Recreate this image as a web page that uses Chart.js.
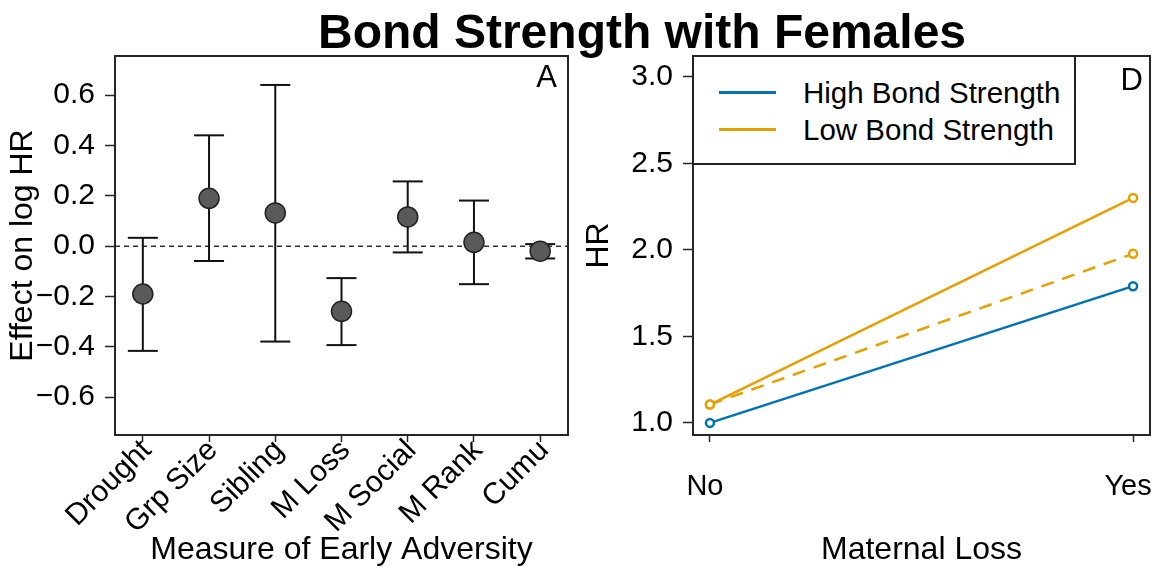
<!DOCTYPE html>
<html>
<head>
<meta charset="utf-8">
<script src="https://cdn.jsdelivr.net/npm/chart.js@4.4.1/dist/chart.umd.min.js"></script>
<style>
  html, body { margin: 0; padding: 0; background: #fff; }
  body { width: 1154px; height: 567px; position: relative; overflow: hidden; font-family: "Liberation Sans", Arial, sans-serif; }
  canvas { position: absolute; top: 0; }
  #leftChart { left: 0; }
  #rightChart { left: 580px; }
  #title { position: absolute; left: 0; top: 6px; width: 1284px; text-align: center; font-weight: bold; font-size: 48px; line-height: 52px; color: #000; }
  #legend { position: absolute; left: 692px; top: 55px; width: 384px; height: 110px; box-sizing: border-box; border: 2px solid #222; background: #fff; }
  .row { position: absolute; left: 0; height: 34px; width: 100%; }
  .row .swatch { position: absolute; left: 25px; top: 15px; width: 57px; height: 3px; }
  .row .lbl { position: absolute; left: 109px; top: 0; font-size: 29.5px; line-height: 34px; color: #000; white-space: nowrap; }
</style>
</head>
<body>
<canvas id="leftChart" width="580" height="567"></canvas>
<canvas id="rightChart" width="574" height="567"></canvas>
<div id="title">Bond Strength with Females</div>
<div id="legend">
  <div class="row" style="top:19px"><div class="swatch" style="background:#0072B2"></div><div class="lbl">High Bond Strength</div></div>
  <div class="row" style="top:56px"><div class="swatch" style="background:#E69F00"></div><div class="lbl">Low Bond Strength</div></div>
</div>
<script>
// Panel A: effect of each early adversity measure (estimate + interval)
const categories = ['Drought', 'Grp Size', 'Sibling', 'M Loss', 'M Social', 'M Rank', 'Cumu'];
const estimates = [-0.19, 0.19, 0.132, -0.259, 0.116, 0.015, -0.02];
const lowerCI = [-0.416, -0.059, -0.379, -0.393, -0.025, -0.151, -0.049];
const upperCI = [0.033, 0.44, 0.64, -0.127, 0.257, 0.181, 0.008];
const effectTicks = [-0.6, -0.4, -0.2, 0, 0.2, 0.4, 0.6];

// Panel D: hazard ratio by maternal loss
const lossLabels = ['No', 'Yes'];
const highBond = [1.0, 1.79];
const lowBond = [1.106, 2.30];
const lowBondDashed = [1.106, 1.977];
const hrTicks = [1.0, 1.5, 2.0, 2.5, 3.0];

const FONT = '"Liberation Sans", Arial, sans-serif';
const BLUE = '#0072B2';
const ORANGE = '#E69F00';
const TICK_SIZE = 30;

// left chart x range (category positions are 1..7)
const xMinA = 0.58, xMaxA = 7.42;

// frame around the plot area plus the panel letter
const framePlugin = {
  id: 'frame',
  afterDraw(chart, args, opts) {
    const { ctx, chartArea: { left, top, right, bottom } } = chart;
    ctx.save();
    ctx.strokeStyle = '#262626';
    ctx.lineWidth = 2;
    ctx.strokeRect(left, top, right - left, bottom - top);
    if (opts.tag) {
      ctx.font = '31px ' + FONT;
      ctx.fillStyle = '#000';
      ctx.textAlign = 'right';
      ctx.textBaseline = 'alphabetic';
      ctx.fillText(opts.tag, right - opts.dx, top + opts.dy);
    }
    ctx.restore();
  }
};

const fmt = v => v.toFixed(1).replace('-', '\u2212');

// keep the plot area where the layout padding puts it
const fixWidth = w => s => { s.width = w; s.paddingTop = 0; s.paddingBottom = 0; s.paddingLeft = 0; s.paddingRight = 0; };
const fixHeight = h => s => { s.height = h; s.paddingTop = 0; s.paddingBottom = 0; s.paddingLeft = 0; s.paddingRight = 0; };

// error bar stems: one segment per category, broken by null points
const stems = [];
const caps = [];
categories.forEach((c, i) => {
  stems.push({ x: i + 1, y: lowerCI[i] }, { x: i + 1, y: upperCI[i] }, { x: i + 1, y: null });
  caps.push({ x: i + 1, y: lowerCI[i] }, { x: i + 1, y: upperCI[i] });
});

new Chart(document.getElementById('leftChart'), {
  type: 'line',
  data: {
    datasets: [
      {
        label: 'Estimate',
        data: estimates.map((v, i) => ({ x: i + 1, y: v })),
        showLine: false,
        pointRadius: 10,
        pointBackgroundColor: '#5a5a5a',
        pointBorderColor: '#222',
        pointBorderWidth: 1.5,
        order: 0
      },
      {
        label: 'caps',
        data: caps,
        showLine: false,
        pointStyle: 'line',
        pointRadius: 15,
        pointBorderColor: '#111',
        pointBorderWidth: 2,
        order: 1
      },
      {
        label: 'stems',
        data: stems,
        borderColor: '#111',
        borderWidth: 2,
        pointRadius: 0,
        spanGaps: false,
        order: 2
      },
      {
        label: 'zero',
        data: [{ x: xMinA, y: 0 }, { x: xMaxA, y: 0 }],
        borderColor: '#333',
        borderWidth: 1.5,
        borderDash: [5, 4],
        pointRadius: 0,
        order: 3
      }
    ]
  },
  options: {
    responsive: false,
    animation: false,
    events: [],
    layout: { autoPadding: false, padding: { top: 56, right: 12, left: 0, bottom: 0 } },
    plugins: {
      legend: { display: false },
      tooltip: { enabled: false },
      frame: { tag: 'A', dx: 11, dy: 31 }
    },
    scales: {
      x: {
        type: 'linear',
        min: xMinA,
        max: xMaxA,
        afterBuildTicks: s => { s.ticks = categories.map((c, i) => ({ value: i + 1 })); },
        afterFit: fixHeight(132),
        border: { display: false },
        grid: { drawOnChartArea: false, tickLength: 7, tickColor: '#262626', tickWidth: 1.5 },
        ticks: {
          autoSkip: false,
          minRotation: 45,
          maxRotation: 45,
          padding: -9,
          labelOffset: 4,
          color: '#000',
          font: { family: FONT, size: TICK_SIZE },
          callback: v => categories[Math.round(v) - 1]
        },
        title: {
          display: true,
          text: 'Measure of Early Adversity',
          color: '#000',
          font: { family: FONT, size: 32, lineHeight: 1 },
          padding: { top: 0, bottom: 1 }
        }
      },
      y: {
        min: -0.75,
        max: 0.755,
        afterBuildTicks: s => { s.ticks = effectTicks.map(v => ({ value: v })); },
        afterFit: fixWidth(115),
        border: { display: false },
        grid: { drawOnChartArea: false, tickLength: 10, tickColor: '#262626', tickWidth: 1.5 },
        ticks: {
          padding: 10,
          color: '#000',
          font: { family: FONT, size: TICK_SIZE },
          callback: v => fmt(v)
        },
        title: {
          display: true,
          text: 'Effect on log HR',
          color: '#000',
          font: { family: FONT, size: 32, lineHeight: 1 },
          padding: { top: 7, bottom: 0 }
        }
      }
    }
  },
  plugins: [framePlugin]
});

const toXY = arr => arr.map((v, i) => ({ x: i, y: v }));

new Chart(document.getElementById('rightChart'), {
  type: 'line',
  data: {
    datasets: [
      {
        label: 'High Bond Strength',
        data: toXY(highBond),
        borderColor: BLUE,
        borderWidth: 2.5,
        pointRadius: 4,
        pointBackgroundColor: '#fff',
        pointBorderColor: BLUE,
        pointBorderWidth: 2.5
      },
      {
        label: 'Low Bond Strength',
        data: toXY(lowBond),
        borderColor: ORANGE,
        borderWidth: 2.5,
        pointRadius: 4,
        pointBackgroundColor: '#fff',
        pointBorderColor: ORANGE,
        pointBorderWidth: 2.5
      },
      {
        label: 'Low Bond Strength (dashed)',
        data: toXY(lowBondDashed),
        borderColor: ORANGE,
        borderWidth: 2.5,
        borderDash: [13, 9],
        pointRadius: 4,
        pointBackgroundColor: '#fff',
        pointBorderColor: ORANGE,
        pointBorderWidth: 2.5
      }
    ]
  },
  options: {
    responsive: false,
    animation: false,
    events: [],
    layout: { autoPadding: false, padding: { top: 56, right: 4, left: 0, bottom: 0 } },
    plugins: {
      legend: { display: false },
      tooltip: { enabled: false },
      frame: { tag: 'D', dx: 7, dy: 34 }
    },
    scales: {
      x: {
        type: 'linear',
        min: -0.04,
        max: 1.04,
        afterBuildTicks: s => { s.ticks = lossLabels.map((c, i) => ({ value: i })); },
        afterFit: fixHeight(132),
        border: { display: false },
        grid: { drawOnChartArea: false, tickLength: 7, tickColor: '#262626', tickWidth: 1.5 },
        ticks: {
          autoSkip: false,
          maxRotation: 0,
          padding: 28,
          labelOffset: -5,   // keeps "Yes" inside the right edge
          color: '#000',
          font: { family: FONT, size: 29 },
          callback: v => lossLabels[Math.round(v)]
        },
        title: {
          display: true,
          text: 'Maternal Loss',
          color: '#000',
          font: { family: FONT, size: 32, lineHeight: 1 },
          padding: { top: 0, bottom: 1 }
        }
      },
      y: {
        min: 0.93,
        max: 3.12,
        afterBuildTicks: s => { s.ticks = hrTicks.map(v => ({ value: v })); },
        afterFit: fixWidth(113),
        border: { display: false },
        grid: { drawOnChartArea: false, tickLength: 10, tickColor: '#262626', tickWidth: 1.5 },
        ticks: {
          padding: 10,
          color: '#000',
          font: { family: FONT, size: TICK_SIZE },
          callback: v => fmt(v)
        },
        title: {
          display: true,
          text: 'HR',
          color: '#000',
          font: { family: FONT, size: 32, lineHeight: 1 },
          padding: { top: 3, bottom: 0 }
        }
      }
    }
  },
  plugins: [framePlugin]
});
</script>
</body>
</html>
